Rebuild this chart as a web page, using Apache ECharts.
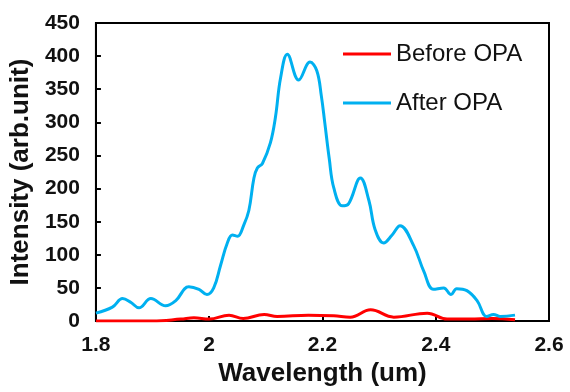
<!DOCTYPE html>
<html>
<head>
<meta charset="utf-8">
<script src="https://cdn.jsdelivr.net/npm/echarts@6/dist/echarts.min.js"></script>
<style>
  html, body { margin: 0; padding: 0; background: #fff; }
  #chart { width: 570px; height: 392px; }
</style>
</head>
<body>
<div id="chart"></div>
<script>
// After OPA (blue)
var afterWl = [1.800, 1.829, 1.847, 1.862, 1.876, 1.897, 1.923, 1.941, 1.964, 1.982, 1.996, 2.008,
  2.020, 2.032, 2.041, 2.050, 2.061, 2.070, 2.079, 2.085, 2.094, 2.108, 2.117, 2.126, 2.138,
  2.158, 2.178, 2.190, 2.198, 2.204, 2.212, 2.220, 2.235, 2.246, 2.267, 2.282, 2.293, 2.308,
  2.323, 2.337, 2.361, 2.379, 2.396, 2.414, 2.427, 2.437, 2.455, 2.473, 2.490, 2.502, 2.514, 2.540];
var afterVal = [12, 21, 34, 28, 20, 34, 23, 31, 52, 48, 40, 50,
  84, 118, 130, 128, 145, 167, 216, 231, 238, 269, 308, 367, 403,
  364, 391, 378, 340, 300, 245, 201, 174, 177, 216, 182, 138, 118,
  130, 144, 114, 75, 48, 50, 40, 49, 46, 31, 7, 10, 7, 9];

// Before OPA (red)
var beforeWl = [1.80, 1.90, 1.95, 1.973, 2.00, 2.035, 2.06, 2.097, 2.12, 2.175, 2.22, 2.249,
  2.285, 2.326, 2.385, 2.42, 2.46, 2.50, 2.54];
var beforeVal = [0, 0, 3, 5, 3, 9, 4, 10, 7, 9, 8, 6, 17, 6, 12, 3, 3, 4, 2];

function pairs(xs, ys) {
  return xs.map(function (x, i) { return [x, ys[i]]; });
}

var font = "'Liberation Sans', Arial, sans-serif";
var myChart = echarts.init(document.getElementById('chart'));
var option = {
  animation: false,
  textStyle: { fontFamily: font },
  grid: {
    left: 95, right: 21, top: 23, bottom: 61,
    show: true, borderColor: '#000', borderWidth: 2, backgroundColor: 'transparent'
  },
  legend: {
    orient: 'vertical',
    left: 338, top: 37,
    icon: 'rect',
    itemWidth: 48, itemHeight: 3, itemGap: 25,
    textStyle: { fontSize: 24, color: '#111', fontFamily: font },
    data: ['Before OPA', 'After OPA']
  },
  xAxis: {
    type: 'value',
    min: 1.8, max: 2.6, interval: 0.2,
    name: 'Wavelength (um)',
    nameLocation: 'middle', nameGap: 34,
    nameTextStyle: { fontSize: 26, fontWeight: 'bold', color: '#111', fontFamily: font },
    axisLine: { lineStyle: { color: '#000', width: 2 } },
    axisTick: { inside: true, length: 5, lineStyle: { color: '#000', width: 2 } },
    axisLabel: {
      fontSize: 21, fontWeight: 'bold', color: '#111', margin: 14,
      formatter: function (v) { return String(+v.toFixed(1)); }
    },
    splitLine: { show: false }
  },
  yAxis: {
    type: 'value',
    min: 0, max: 450, interval: 50,
    name: 'Intensity (arb.unit)',
    nameLocation: 'middle', nameGap: 53,
    nameTextStyle: { fontSize: 26, fontWeight: 'bold', color: '#111', fontFamily: font },
    axisLine: { show: true, lineStyle: { color: '#000', width: 2 } },
    axisTick: { show: true, inside: true, length: 5, lineStyle: { color: '#000', width: 2 } },
    axisLabel: { fontSize: 21, fontWeight: 'bold', color: '#111', margin: 16 },
    splitLine: { show: false }
  },
  series: [
    {
      name: 'Before OPA',
      type: 'line',
      data: pairs(beforeWl, beforeVal),
      smooth: 0.4,
      symbol: 'none',
      lineStyle: { color: '#ff0000', width: 3 },
      itemStyle: { color: '#ff0000' }
    },
    {
      name: 'After OPA',
      type: 'line',
      data: pairs(afterWl, afterVal),
      smooth: 0.4,
      symbol: 'none',
      lineStyle: { color: '#00b0f0', width: 3 },
      itemStyle: { color: '#00b0f0' }
    }
  ]
};
myChart.setOption(option);
</script>
</body>
</html>
